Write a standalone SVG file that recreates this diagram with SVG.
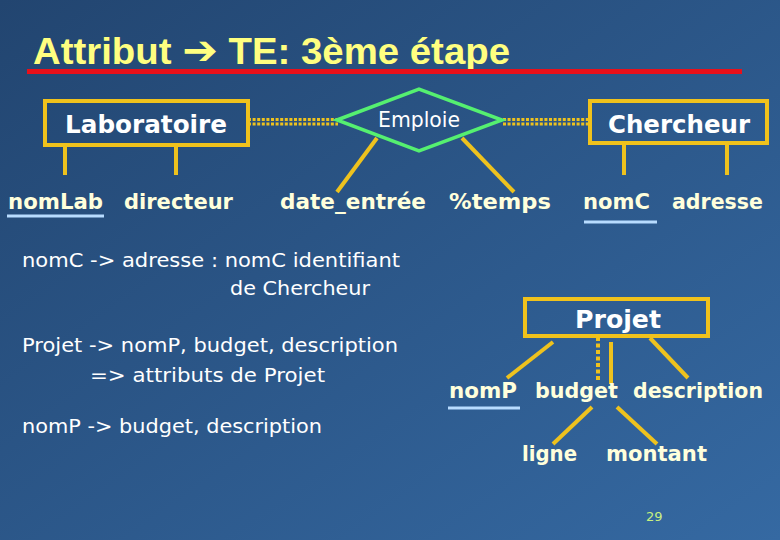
<svg xmlns="http://www.w3.org/2000/svg" width="780" height="540" viewBox="0 0 780 540">
<defs>
<linearGradient id="bg" x1="0" y1="0" x2="1" y2="1">
<stop offset="0" stop-color="#224570"/>
<stop offset="1" stop-color="#3569a2"/>
</linearGradient>
<style>
.box{fill:none;stroke:#f0c21c;stroke-width:4}
.ln{stroke:#eec21e;stroke-width:4;fill:none}
.dd{stroke:#eec21e;stroke-width:3;stroke-dasharray:3 1.6;fill:none}
.ent{font-family:"DejaVu Sans",Verdana,sans-serif;font-weight:bold;font-size:24px;fill:#ffffff;text-anchor:middle}
.att{font-family:"DejaVu Sans",Verdana,sans-serif;font-weight:bold;font-size:21px;fill:#ffffdc}
.txt{font-family:"DejaVu Sans",Verdana,sans-serif;font-size:20px;fill:#ffffff}
.ul{stroke:#b8dcff;stroke-width:3}
</style>
</defs>
<rect width="780" height="540" fill="url(#bg)"/>
<g id="title">
<text x="33" y="64" font-family="'Liberation Sans',Arial,sans-serif" font-weight="bold" font-size="36" fill="#ffff80" textLength="477" lengthAdjust="spacingAndGlyphs">Attribut <tspan font-family="'DejaVu Sans',sans-serif" font-size="40">➔</tspan> TE: 3ème étape</text>
<rect x="27" y="69" width="715" height="5" fill="#e8101a"/>
</g>
<g id="connectors">
<line class="dd" x1="248" y1="119.5" x2="338" y2="119.5"/>
<line class="dd" x1="248" y1="124" x2="338" y2="124"/>
<line class="dd" x1="503" y1="119.5" x2="591" y2="119.5"/>
<line class="dd" x1="503" y1="124" x2="591" y2="124"/>
<line class="ln" x1="65" y1="145" x2="65" y2="175"/>
<line class="ln" x1="176" y1="145" x2="176" y2="175"/>
<line class="ln" x1="377" y1="138" x2="337" y2="192"/>
<line class="ln" x1="462" y1="138" x2="514" y2="192"/>
<line class="ln" x1="624" y1="143" x2="624" y2="175"/>
<line class="ln" x1="727" y1="143" x2="727" y2="175"/>
<line class="ln" x1="553" y1="342" x2="507" y2="378"/>
<line class="ln" x1="598" y1="337" x2="598" y2="381" stroke-dasharray="4 2.5" stroke-width="3.5"/>
<line class="ln" x1="611" y1="342" x2="611" y2="384"/>
<line class="ln" x1="650" y1="338" x2="688" y2="378"/>
<line class="ln" x1="592" y1="407" x2="553" y2="444"/>
<line class="ln" x1="617" y1="407" x2="657" y2="444"/>
</g>
<g id="laboratoire">
<rect class="box" x="45" y="101" width="203" height="44"/>
<text class="ent" x="146" y="133" textLength="162" lengthAdjust="spacingAndGlyphs">Laboratoire</text>
</g>
<g id="emploie">
<polygon points="337,120 419,89 502,120 419,151" fill="none" stroke="#55f070" stroke-width="3.5" stroke-linejoin="miter"/>
<text x="419" y="127" font-family="'DejaVu Sans',Verdana,sans-serif" font-size="21" fill="#ffffff" text-anchor="middle" textLength="82" lengthAdjust="spacingAndGlyphs">Emploie</text>
</g>
<g id="chercheur">
<rect class="box" x="590" y="101" width="177" height="42"/>
<text class="ent" x="679" y="133" textLength="142" lengthAdjust="spacingAndGlyphs">Chercheur</text>
</g>
<g id="projet">
<rect class="box" x="525" y="299" width="183" height="37"/>
<text class="ent" x="618" y="328" textLength="86" lengthAdjust="spacingAndGlyphs">Projet</text>
</g>
<g id="nomLab">
<text class="att" x="8" y="209" textLength="95" lengthAdjust="spacingAndGlyphs">nomLab</text>
<line class="ul" x1="7" y1="216" x2="104" y2="216"/>
</g>
<g id="directeur"><text class="att" x="124" y="209" textLength="109" lengthAdjust="spacingAndGlyphs">directeur</text></g>
<g id="date_entree"><text class="att" x="280" y="209" textLength="146" lengthAdjust="spacingAndGlyphs">date_entrée</text></g>
<g id="temps"><text class="att" x="449" y="209" textLength="102" lengthAdjust="spacingAndGlyphs">%temps</text></g>
<g id="nomC">
<text class="att" x="583" y="209" textLength="67" lengthAdjust="spacingAndGlyphs">nomC</text>
<line class="ul" x1="584" y1="222" x2="657" y2="222"/>
</g>
<g id="adresse"><text class="att" x="672" y="209" textLength="91" lengthAdjust="spacingAndGlyphs">adresse</text></g>
<g id="nomP">
<text class="att" x="449" y="398" textLength="68" lengthAdjust="spacingAndGlyphs">nomP</text>
<line class="ul" x1="448" y1="408" x2="520" y2="408"/>
</g>
<g id="budget"><text class="att" x="535" y="398" textLength="83" lengthAdjust="spacingAndGlyphs">budget</text></g>
<g id="description"><text class="att" x="633" y="398" textLength="130" lengthAdjust="spacingAndGlyphs">description</text></g>
<g id="ligne"><text class="att" x="522" y="461" textLength="55" lengthAdjust="spacingAndGlyphs">ligne</text></g>
<g id="montant"><text class="att" x="606" y="461" textLength="101" lengthAdjust="spacingAndGlyphs">montant</text></g>
<g id="notes">
<text class="txt" x="22" y="267" textLength="378" lengthAdjust="spacingAndGlyphs">nomC -&gt; adresse : nomC identifiant</text>
<text class="txt" x="230" y="295" textLength="140" lengthAdjust="spacingAndGlyphs">de Chercheur</text>
<text class="txt" x="22" y="352" textLength="376" lengthAdjust="spacingAndGlyphs">Projet -&gt; nomP, budget, description</text>
<text class="txt" x="90" y="382" textLength="235" lengthAdjust="spacingAndGlyphs">=&gt; attributs de Projet</text>
<text class="txt" x="22" y="433" textLength="300" lengthAdjust="spacingAndGlyphs">nomP -&gt; budget, description</text>
</g>
<g id="page"><text x="646" y="521" font-family="'DejaVu Sans',Verdana,sans-serif" font-size="13" fill="#c8f080">29</text></g>
</svg>
